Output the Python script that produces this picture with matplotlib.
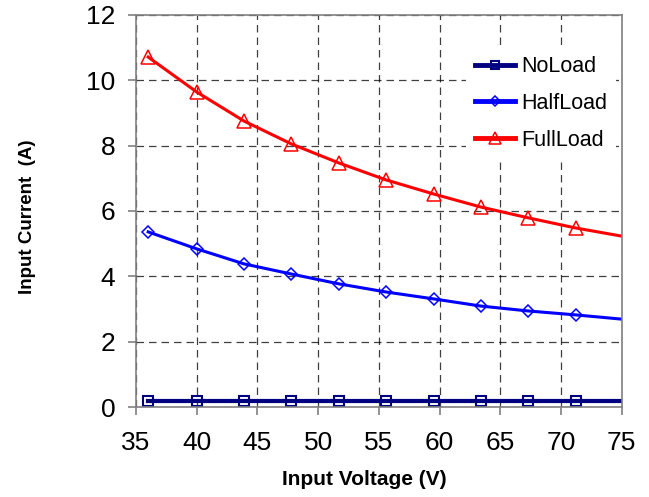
import numpy as np
import matplotlib
matplotlib.use('Agg')
import matplotlib.pyplot as plt

# Data
voltage = [36, 40, 43.9, 47.8, 51.7, 55.6, 59.5, 63.4, 67.3, 71.2, 75]
no_load = [0.2, 0.2, 0.2, 0.2, 0.2, 0.2, 0.2, 0.2, 0.2, 0.2, 0.2]
half_load = [5.36, 4.84, 4.38, 4.07, 3.77, 3.52, 3.31, 3.09, 2.94, 2.82, 2.69]
full_load = [10.71, 9.64, 8.75, 8.05, 7.47, 6.95, 6.52, 6.12, 5.79, 5.48, 5.23]

x_ticks = [35, 40, 45, 50, 55, 60, 65, 70, 75]
y_ticks = [0, 2, 4, 6, 8, 10, 12]

plt.rcParams['font.family'] = ['Liberation Sans', 'DejaVu Sans']

fig = plt.figure(figsize=(6.49, 4.97), dpi=100)
ax = fig.add_axes([0.2096, 0.181, 0.7484, 0.789])

marks = list(range(len(voltage) - 1))  # last point has no marker
ax.plot(voltage, no_load, color='#000080', lw=3, marker='s', ms=7.5,
        mfc='none', mec='#000080', mew=1.5, markevery=marks, label='NoLoad')
ax.plot(voltage, half_load, color='#0000FF', lw=2.2, marker='D', ms=6.5,
        mfc='none', mec='#0000FF', mew=1.1, markevery=marks, label='HalfLoad')
ax.plot(voltage, full_load, color='#FF0000', lw=2.2, marker='^', ms=10,
        mfc='none', mec='#FF0000', mew=1.1, markevery=marks, label='FullLoad')

ax.set_xlim(35, 75)
ax.set_ylim(0, 12)
ax.set_xticks(x_ticks)
ax.set_yticks(y_ticks)
ax.tick_params(axis='both', labelsize=19, direction='out', length=6,
               color='#808080', width=1.2)
ax.tick_params(axis='x', pad=11.5)
ax.tick_params(axis='y', pad=9)
ax.grid(True, color='black', linestyle=(0, (6, 4)), lw=0.9, alpha=0.75)
for s in ax.spines.values():
    s.set_color('#808080')
    s.set_linewidth(1.2)

ax.set_xlabel('Input Voltage (V)', fontsize=15, fontweight='bold')
ax.set_ylabel('Input Current  (A)', fontsize=13.5, fontweight='bold')
ax.xaxis.set_label_coords(0.471, -0.16)
ax.yaxis.set_label_coords(-0.205, 0.485)

leg = ax.legend(loc='upper left', bbox_to_anchor=(0.68, 0.917), frameon=True,
                fontsize=15.5, handlelength=1.86, handletextpad=0.28,
                labelspacing=0.74, borderaxespad=0.0, markerscale=0.85)
leg.get_frame().set_facecolor('white')
leg.get_frame().set_edgecolor('none')
leg.get_frame().set_alpha(1)
for line in leg.get_lines():
    line.set_linewidth(3.5)

fig.savefig('out.png', dpi=100)
